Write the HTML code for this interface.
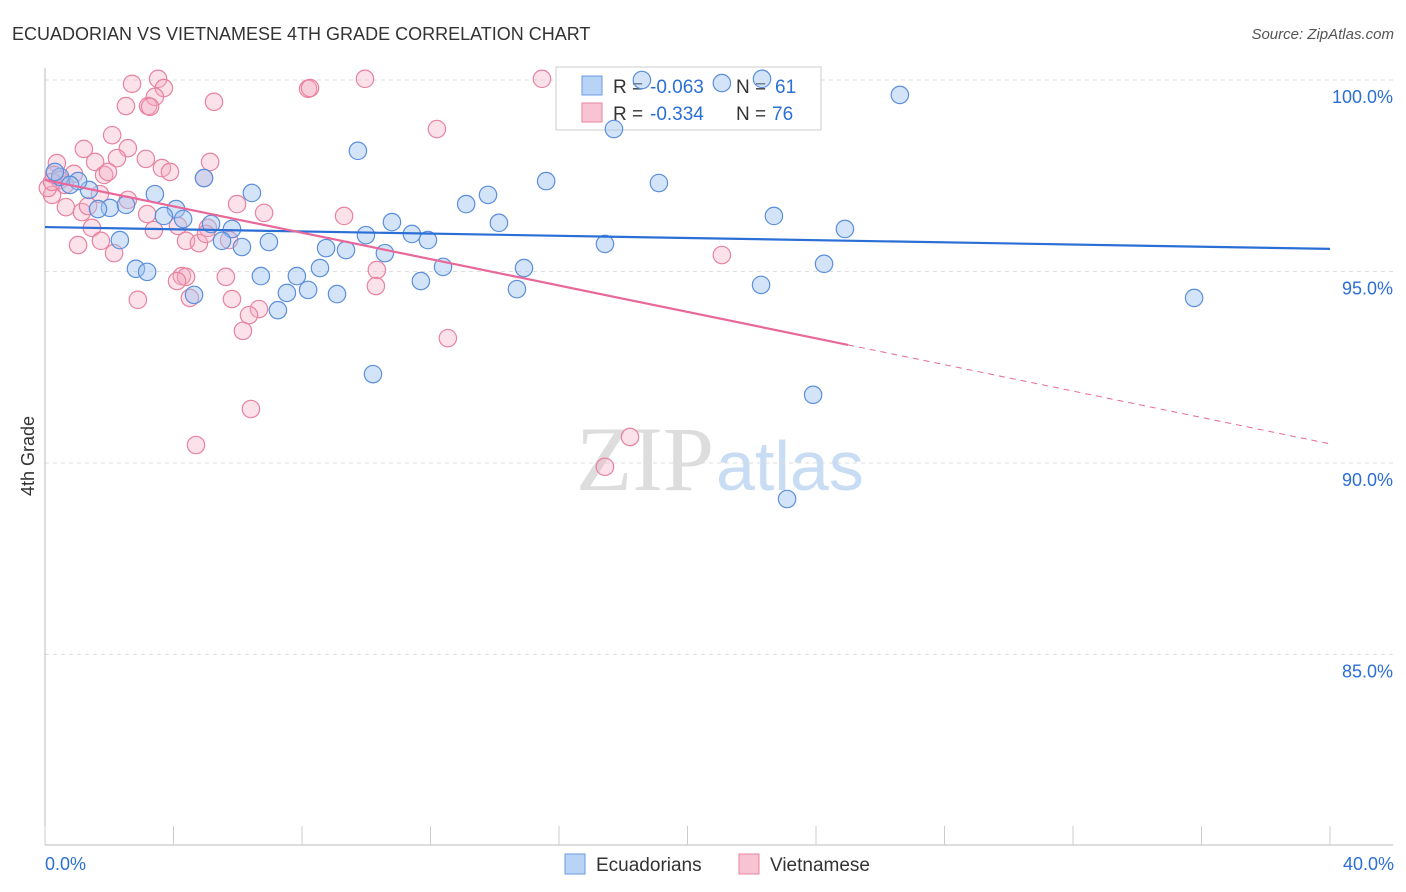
<!DOCTYPE html>
<html><head><meta charset="utf-8"><style>
body{margin:0;background:#fff;font-family:"Liberation Sans",sans-serif;}
#wrap{position:relative;width:1406px;height:892px;overflow:hidden;}
</style></head><body>
<div id="wrap">
<svg id="svg" width="1406" height="892" xmlns="http://www.w3.org/2000/svg">
<text x="12" y="40" font-size="18" fill="#333">ECUADORIAN VS VIETNAMESE 4TH GRADE CORRELATION CHART</text>
<text x="1394" y="39" font-size="15" fill="#555" font-style="italic" text-anchor="end">Source: ZipAtlas.com</text>
<text transform="translate(34,456) rotate(-90)" font-size="18" fill="#333" text-anchor="middle">4th Grade</text>
<text x="714" y="490" font-size="92" fill="#ddd" text-anchor="end" font-family="Liberation Serif,serif">ZIP</text>
<text x="716" y="490" font-size="70" fill="#c8dcf3">atlas</text>
<g id="grid"></g>
<g>
<rect x="556" y="67" width="265" height="63" fill="#fff" stroke="#ccc"/>
<rect x="582" y="76" width="20" height="19" fill="#b8d3f5" stroke="#6a9be0"/>
<rect x="582" y="103" width="20" height="19" fill="#f8c4d4" stroke="#e8839f"/>
<text x="613" y="93" font-size="19" fill="#333">R =</text>
<text x="650" y="93" font-size="19" fill="#2b6fd6">-0.063</text>
<text x="736" y="93" font-size="19" fill="#333">N =</text>
<text x="775" y="93" font-size="19" fill="#2b6fd6">61</text>
<text x="613" y="120" font-size="19" fill="#333">R =</text>
<text x="650" y="120" font-size="19" fill="#2b6fd6">-0.334</text>
<text x="736" y="120" font-size="19" fill="#333">N =</text>
<text x="772" y="120" font-size="19" fill="#2b6fd6">76</text>
</g>
<g id="marks"></g>
<g>
<rect x="565" y="854" width="20" height="20" fill="#b8d3f5" stroke="#6a9be0"/>
<text x="596" y="871" font-size="19" fill="#333">Ecuadorians</text>
<rect x="739" y="854" width="20" height="20" fill="#f8c4d4" stroke="#e8839f"/>
<text x="770" y="871" font-size="19" fill="#333">Vietnamese</text>
</g>
<text x="45" y="870" font-size="18" fill="#2b6fd6">0.0%</text>
<text x="1394" y="870" font-size="18" fill="#2b6fd6" text-anchor="end">40.0%</text>
</svg></div>
<script>
const blueX=[18.58,21.07,22.32,26.61,17.71,9.74,15.60,19.11,13.79,13.11,3.42,6.44,4.95,1.37,1.03,0.47,0.31,0.78,2.02,1.65,2.52,4.08,3.70,4.30,5.17,5.82,2.33,5.51,6.13,6.97,10.80,9.99,11.42,11.92,9.37,8.75,10.58,14.13,17.43,22.69,24.90,2.83,3.18,6.72,7.84,8.56,12.39,14.91,11.70,8.19,7.53,9.09,4.64,7.25,14.69,22.29,24.25,35.77,10.21,23.91,23.10];
const blueY=[100.0,99.92,100.03,99.61,98.72,98.15,97.36,97.31,97.00,96.76,97.02,97.05,97.44,97.13,97.36,97.47,97.60,97.26,96.66,96.63,96.74,96.63,96.45,96.37,96.24,96.11,95.82,95.80,95.64,95.77,96.29,95.95,95.98,95.82,95.56,95.61,95.48,96.27,95.72,96.45,96.11,95.07,94.99,94.88,94.88,95.09,95.12,95.09,94.75,94.52,94.44,94.41,94.39,93.99,94.54,94.65,95.20,94.31,92.32,91.78,89.06];
const pinkX=[2.71,3.52,3.70,9.96,8.19,8.25,15.47,5.26,2.52,3.21,3.42,3.27,12.20,2.09,1.21,2.58,3.14,2.24,1.56,0.37,5.14,3.64,3.89,1.84,1.96,0.90,1.71,2.58,0.22,0.65,1.15,1.34,1.46,3.39,3.18,4.14,5.07,5.98,6.82,1.74,1.03,2.15,4.39,4.79,5.01,5.73,9.31,21.07,10.33,10.30,4.26,4.39,4.11,5.63,6.66,5.82,2.89,4.51,6.35,6.16,12.54,6.41,4.70,18.21,17.43,0.09,0.47,0.28,0.62,4.95,0.22];
const pinkY=[99.90,100.03,99.79,100.03,99.77,99.79,100.03,99.43,99.32,99.32,99.56,99.30,98.72,98.56,98.20,98.22,97.94,97.96,97.86,97.83,97.86,97.70,97.60,97.52,97.60,97.55,97.02,96.87,97.00,96.68,96.55,96.71,96.14,96.08,96.50,96.19,96.14,96.76,96.53,95.80,95.69,95.48,95.80,95.74,95.98,95.82,96.45,95.43,95.04,94.62,94.88,94.86,94.75,94.86,94.02,94.28,94.26,94.31,93.86,93.45,93.26,91.41,90.47,90.68,89.90,97.18,97.39,97.52,97.26,97.44,97.34];
const yTicks=[100,95,90,85];
const yTickLabels=["100.0%","95.0%","90.0%","85.0%"];
const xTicks=[0,4,8,12,16,20,24,28,32,36,40];
const blueTrend=[96.16,95.59];
const pinkTrend=[97.39,90.50];
const pinkSolidEnd=25;
const X=v=>45+v*32.125, Y=v=>80+(100-v)*38.3;
const NS="http://www.w3.org/2000/svg";
function mk(t,a,p){const e=document.createElementNS(NS,t);for(const k in a)e.setAttribute(k,a[k]);p.appendChild(e);return e;}
const grid=document.getElementById('grid'),marks=document.getElementById('marks');
yTicks.forEach((v,i)=>{
 const l=mk('line',{x1:45,x2:1393,y1:Y(v),y2:Y(v),stroke:'#ddd','stroke-dasharray':'4,4'},grid);
 
 
 const t=mk('text',{x:1393,y:Y(v)+23,'font-size':18,fill:'#2b6fd6','text-anchor':'end'},grid);
 t.textContent=yTickLabels[i];
 
 
});
const ax=mk('line',{x1:45,x2:1393,y1:845,y2:845,stroke:'#bbb'},grid);


const ay=mk('line',{x1:45,x2:45,y1:68,y2:845,stroke:'#bbb'},grid);


xTicks.forEach(v=>{
 const t=mk('line',{x1:X(v),x2:X(v),y1:826,y2:845,stroke:'#ccc'},grid);
 
 
});
function pts(xs,ys,fill,stroke,name){xs.forEach((x,i)=>{
 const c=mk('circle',{cx:X(x),cy:Y(ys[i]),r:8.7,fill:fill,stroke:stroke,'stroke-width':1.2},marks);
 
 
});}
pts(pinkX,pinkY,'rgba(244,170,195,0.35)','#e8839f','vietnamese-point');
pts(blueX,blueY,'rgba(160,196,240,0.45)','#5b8fdc','ecuadorian-point');
const bl=mk('line',{x1:X(0),y1:Y(blueTrend[0]),x2:X(40),y2:Y(blueTrend[1]),stroke:'#2b6fd6','stroke-width':2.2},marks);


const pAt=x=>pinkTrend[0]+(pinkTrend[1]-pinkTrend[0])*x/40;
const pl=mk('line',{x1:X(0),y1:Y(pinkTrend[0]),x2:X(pinkSolidEnd),y2:Y(pAt(pinkSolidEnd)),stroke:'#e8689a','stroke-width':2.2},marks);


const pd=mk('line',{x1:X(pinkSolidEnd),y1:Y(pAt(pinkSolidEnd)),x2:X(40),y2:Y(pinkTrend[1]),stroke:'#e8689a','stroke-width':1,'stroke-dasharray':'6,5'},marks);


</script>
</body></html>
